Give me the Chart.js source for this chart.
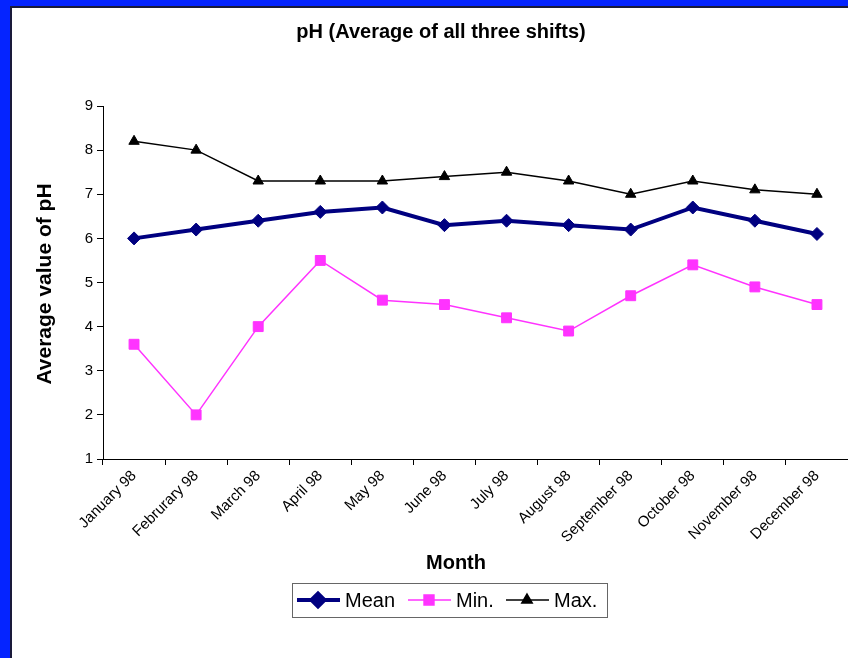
<!DOCTYPE html>
<html>
<head>
<meta charset="utf-8">
<title>pH (Average of all three shifts)</title>
<script src="https://cdn.jsdelivr.net/npm/chart.js@4/dist/chart.umd.min.js"></script>
<style>
    html, body { margin: 0; padding: 0; }
    body { width: 848px; height: 658px; background: #0524ff; position: relative; overflow: hidden; }
    #panel {
        position: absolute; left: 10px; top: 6px; right: 0; bottom: 0;
        background: #fff; border-left: 2px solid #1a1a3a; border-top: 2px solid #1a1a3a;
    }
    #phChart { position: absolute; left: 0; top: 0; }
</style>
</head>
<body>
<div id="panel"></div>
<canvas id="phChart" width="848" height="658"></canvas>
<script>
const months = ['January 98', 'Februrary 98', 'March 98', 'April 98', 'May 98', 'June 98',
    'July 98', 'August 98', 'September 98', 'October 98', 'November 98', 'December 98'];
const meanValues = [6.0, 6.2, 6.4, 6.6, 6.7, 6.3, 6.4, 6.3, 6.2, 6.7, 6.4, 6.1];
const minValues = [3.6, 2.0, 4.0, 5.5, 4.6, 4.5, 4.2, 3.9, 4.7, 5.4, 4.9, 4.5];
const maxValues = [8.2, 8.0, 7.3, 7.3, 7.3, 7.4, 7.5, 7.3, 7.0, 7.3, 7.1, 7.0];
const yMin = 1, yMax = 9, yStep = 1;

const chartTitle = 'pH (Average of all three shifts)';
const xTitle = 'Month';
const yTitle = 'Average value of pH';

// title, axis titles and the boxed legend (line + marker like the original)
const decorPlugin = {
    id: 'decor',
    afterDraw(chart) {
        const ctx = chart.ctx;
        ctx.save();
        ctx.fillStyle = '#000';
        ctx.textBaseline = 'middle';
        ctx.textAlign = 'center';
        ctx.font = 'bold 20px Arial, "Liberation Sans", sans-serif';
        ctx.fillText(chartTitle, 441, 32);
        ctx.fillText(xTitle, 456, 563);

        ctx.save();
        ctx.translate(45, 284);
        ctx.rotate(-Math.PI / 2);
        ctx.font = 'bold 21px Arial, "Liberation Sans", sans-serif';
        ctx.fillText(yTitle, 0, 0);
        ctx.restore();

        // legend box
        ctx.strokeStyle = '#666';
        ctx.lineWidth = 1;
        ctx.strokeRect(292.5, 583.5, 315, 34);

        const entries = [
            { ds: 0, x: 297, text: 'Mean' },
            { ds: 1, x: 408, text: 'Min.' },
            { ds: 2, x: 506, text: 'Max.' }
        ];
        ctx.font = '20px Arial, "Liberation Sans", sans-serif';
        ctx.textAlign = 'left';
        entries.forEach(e => {
            const d = chart.data.datasets[e.ds];
            const y = 600;
            ctx.strokeStyle = d.borderColor;
            ctx.lineWidth = d.borderWidth;
            ctx.beginPath();
            ctx.moveTo(e.x, y);
            ctx.lineTo(e.x + 43, y);
            ctx.stroke();
            ctx.fillStyle = d.pointBackgroundColor;
            ctx.strokeStyle = d.pointBorderColor;
            Chart.helpers.drawPoint(ctx, {
                pointStyle: d.pointStyle, radius: d.pointRadius, borderWidth: 1, rotation: 0
            }, e.x + 21, y);
            ctx.fillStyle = '#000';
            ctx.fillText(e.text, e.x + 48, y + 1);
        });
        ctx.restore();
    }
};

new Chart(document.getElementById('phChart'), {
    type: 'line',
    data: {
        labels: months,
        datasets: [
            {
                label: 'Mean',
                data: meanValues,
                borderColor: '#000080',
                backgroundColor: '#000080',
                borderWidth: 4,
                pointStyle: 'rectRot',
                pointRadius: 6.5,
                pointBackgroundColor: '#000080',
                pointBorderColor: '#000080',
                pointBorderWidth: 1,
                tension: 0
            },
            {
                label: 'Min.',
                data: minValues,
                borderColor: '#ff33ff',
                backgroundColor: '#ff33ff',
                borderWidth: 1.5,
                pointStyle: 'rect',
                pointRadius: 7,
                pointBackgroundColor: '#ff33ff',
                pointBorderColor: '#ff33ff',
                pointBorderWidth: 1,
                tension: 0
            },
            {
                label: 'Max.',
                data: maxValues,
                borderColor: '#000000',
                backgroundColor: '#000000',
                borderWidth: 1.5,
                pointStyle: 'triangle',
                pointRadius: 6,
                pointBackgroundColor: '#000000',
                pointBorderColor: '#000000',
                pointBorderWidth: 1,
                tension: 0
            }
        ]
    },
    options: {
        responsive: false,
        animation: false,
        layout: { autoPadding: false, padding: { top: 106, left: 0, right: 0, bottom: 0 } },
        plugins: {
            legend: { display: false },
            title: { display: false },
            tooltip: { enabled: false }
        },
        scales: {
            x: {
                offset: true,
                grid: { offset: true, drawOnChartArea: false, drawTicks: true, tickLength: 6, color: '#000' },
                border: { color: '#000', width: 1 },
                ticks: {
                    color: '#000',
                    font: { family: 'Arial, "Liberation Sans", sans-serif', size: 15 },
                    minRotation: 45,
                    maxRotation: 45,
                    autoSkip: false,
                    padding: 2
                },
                afterFit(scale) {
                    scale.height = 199;
                    scale.paddingLeft = 0;
                    scale.paddingRight = 0;
                }
            },
            y: {
                min: yMin,
                max: yMax,
                grid: { drawOnChartArea: false, drawTicks: true, tickLength: 6, color: '#000' },
                border: { color: '#000', width: 1 },
                ticks: {
                    stepSize: yStep,
                    color: '#000',
                    font: { family: 'Arial, "Liberation Sans", sans-serif', size: 15 },
                    padding: 4
                },
                afterFit(scale) { scale.width = 103; }
            }
        }
    },
    plugins: [decorPlugin]
});
</script>
</body>
</html>
